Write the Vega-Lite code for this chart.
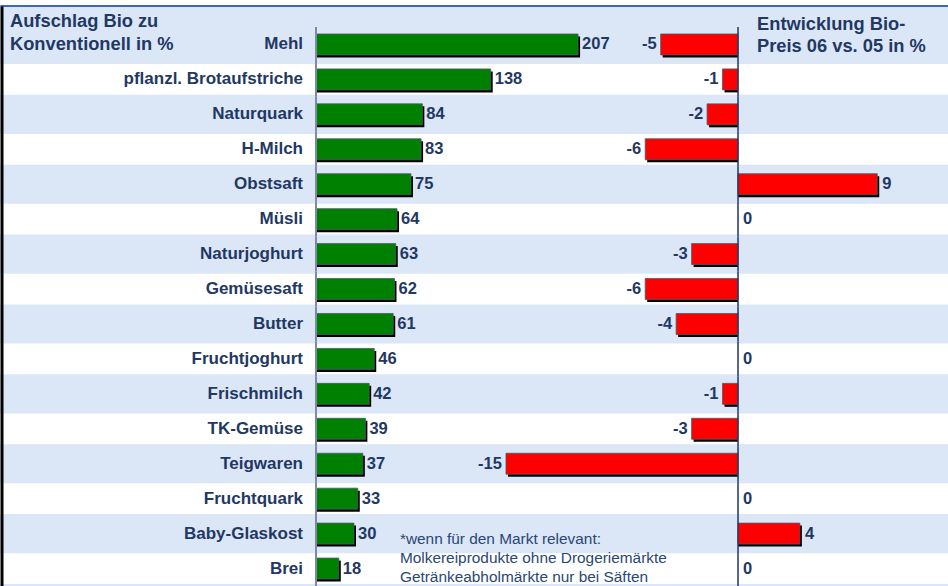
{
  "$schema": "https://vega.github.io/schema/vega-lite/v6.json",
  "width": 948,
  "height": 580,
  "autosize": "none",
  "padding": {"top": 6, "left": 0, "right": 0, "bottom": 0},
  "background": "white",
  "config": {
    "view": {"stroke": null, "fill": "#dbe6f7"},
    "font": "Liberation Sans",
    "text": {"font": "Liberation Sans", "color": "#1f3864"}
  },
  "data": {
    "values": [
      {"cat": "Mehl", "auf": 207, "entw": -5},
      {"cat": "pflanzl. Brotaufstriche", "auf": 138, "entw": -1},
      {"cat": "Naturquark", "auf": 84, "entw": -2},
      {"cat": "H-Milch", "auf": 83, "entw": -6},
      {"cat": "Obstsaft", "auf": 75, "entw": 9},
      {"cat": "Müsli", "auf": 64, "entw": 0},
      {"cat": "Naturjoghurt", "auf": 63, "entw": -3},
      {"cat": "Gemüsesaft", "auf": 62, "entw": -6},
      {"cat": "Butter", "auf": 61, "entw": -4},
      {"cat": "Fruchtjoghurt", "auf": 46, "entw": 0},
      {"cat": "Frischmilch", "auf": 42, "entw": -1},
      {"cat": "TK-Gemüse", "auf": 39, "entw": -3},
      {"cat": "Teigwaren", "auf": 37, "entw": -15},
      {"cat": "Fruchtquark", "auf": 33, "entw": 0},
      {"cat": "Baby-Glaskost", "auf": 30, "entw": 4},
      {"cat": "Brei", "auf": 18, "entw": 0}
    ]
  },
  "encoding": {
    "y": {
      "field": "cat",
      "type": "nominal",
      "sort": null,
      "scale": {
        "domain": ["Mehl", "pflanzl. Brotaufstriche", "Naturquark", "H-Milch", "Obstsaft", "Müsli", "Naturjoghurt", "Gemüsesaft", "Butter", "Fruchtjoghurt", "Frischmilch", "TK-Gemüse", "Teigwaren", "Fruchtquark", "Baby-Glaskost", "Brei"],
        "paddingInner": 0,
        "paddingOuter": 0.3005,
        "align": 1
      },
      "axis": {
        "domain": true,
        "domainColor": "black",
        "domainWidth": 3,
        "offset": -1.5,
        "labels": false,
        "ticks": false,
        "grid": false,
        "title": null,
        "zindex": 1
      }
    }
  },
  "layer": [
    {
      "transform": [
        {"window": [{"op": "row_number", "as": "rn"}]},
        {"filter": "datum.rn % 2 == 0"}
      ],
      "mark": {"type": "bar", "fill": "white", "height": {"band": 0.88}},
      "encoding": {
        "x": {
          "datum": -249.6,
          "type": "quantitative",
          "scale": {"domain": [-249.6, 499.2], "nice": false, "zero": false},
          "axis": {
            "orient": "top",
            "domainColor": "#3b67b9",
            "domainWidth": 2,
            "offset": 0.5,
            "labels": false,
            "ticks": false,
            "grid": false,
            "title": null,
            "zindex": 1
          }
        },
        "x2": {"datum": 499.2}
      }
    },
    {
      "mark": {"type": "bar", "fill": "black", "xOffset": 2, "yOffset": 2.5, "height": {"band": 0.6}},
      "encoding": {
        "x": {"field": "auf", "type": "quantitative", "scale": {"domain": [-249.6, 499.2], "nice": false, "zero": false}, "axis": null},
        "x2": {"datum": 0}
      }
    },
    {
      "mark": {"type": "bar", "fill": "#008000", "stroke": "#4a5a6a", "strokeWidth": 0.8, "height": {"band": 0.6}},
      "encoding": {
        "x": {"field": "auf", "type": "quantitative", "scale": {"domain": [-249.6, 499.2], "nice": false, "zero": false}, "axis": null},
        "x2": {"datum": 0}
      }
    },
    {
      "mark": {"type": "bar", "fill": null, "stroke": "#7d8aa2", "strokeWidth": 2},
      "encoding": {
        "x": {"datum": 0, "type": "quantitative", "scale": {"domain": [-249.6, 499.2], "nice": false, "zero": false}, "axis": null},
        "x2": {"datum": 0}
      }
    },
    {
      "mark": {"type": "text", "align": "left", "baseline": "middle", "dx": 4, "fontSize": 16.5, "fontWeight": "bold"},
      "encoding": {
        "x": {"field": "auf", "type": "quantitative", "scale": {"domain": [-249.6, 499.2], "nice": false, "zero": false}, "axis": null},
        "text": {"field": "auf", "type": "nominal"}
      }
    },
    {
      "mark": {"type": "text", "align": "right", "baseline": "middle", "dx": -13, "fontSize": 17, "fontWeight": "bold"},
      "encoding": {
        "x": {"datum": 0, "type": "quantitative", "scale": {"domain": [-249.6, 499.2], "nice": false, "zero": false}, "axis": null},
        "text": {"field": "cat", "type": "nominal"}
      }
    },
    {
      "transform": [{"filter": "datum.cat == 'Mehl'"}],
      "mark": {"type": "text", "align": "left", "baseline": "top", "dy": -31, "lineHeight": 22.7, "fontSize": 18.3, "fontWeight": "bold"},
      "encoding": {
        "x": {"datum": -241.7, "type": "quantitative", "scale": {"domain": [-249.6, 499.2], "nice": false, "zero": false}, "axis": null},
        "text": {"value": ["Aufschlag Bio zu", "Konventionell in %"]}
      }
    },
    {
      "transform": [{"filter": "datum.cat == 'Baby-Glaskost'"}],
      "mark": {"type": "text", "align": "left", "baseline": "top", "dy": -1.5, "lineHeight": 19, "fontSize": 15.4, "fontWeight": "normal", "color": "#2a4775"},
      "encoding": {
        "x": {"datum": 66.3, "type": "quantitative", "scale": {"domain": [-249.6, 499.2], "nice": false, "zero": false}, "axis": null},
        "text": {"value": ["*wenn für den Markt relevant:", "Molkereiprodukte ohne Drogeriemärkte", "Getränkeabholmärkte nur bei Säften"]}
      }
    },
    {
      "transform": [{"filter": "datum.entw != 0"}],
      "mark": {"type": "bar", "fill": "black", "xOffset": 2, "yOffset": 2.5, "height": {"band": 0.6}},
      "encoding": {
        "x": {"field": "entw", "type": "quantitative", "scale": {"domain": [-47.71, 13.575], "nice": false, "zero": false}, "axis": null},
        "x2": {"datum": 0}
      }
    },
    {
      "transform": [{"filter": "datum.entw != 0"}],
      "mark": {"type": "bar", "fill": "#ff0000", "stroke": "#4a5a6a", "strokeWidth": 0.8, "height": {"band": 0.6}},
      "encoding": {
        "x": {"field": "entw", "type": "quantitative", "scale": {"domain": [-47.71, 13.575], "nice": false, "zero": false}, "axis": null},
        "x2": {"datum": 0}
      }
    },
    {
      "mark": {"type": "bar", "fill": null, "stroke": "#1f3864", "strokeWidth": 1.5},
      "encoding": {
        "x": {"datum": 0, "type": "quantitative", "scale": {"domain": [-47.71, 13.575], "nice": false, "zero": false}, "axis": null},
        "x2": {"datum": 0}
      }
    },
    {
      "transform": [{"filter": "datum.entw < 0"}],
      "mark": {"type": "text", "align": "right", "baseline": "middle", "dx": -4, "fontSize": 16.5, "fontWeight": "bold"},
      "encoding": {
        "x": {"field": "entw", "type": "quantitative", "scale": {"domain": [-47.71, 13.575], "nice": false, "zero": false}, "axis": null},
        "text": {"field": "entw", "type": "nominal"}
      }
    },
    {
      "transform": [{"filter": "datum.entw >= 0"}],
      "mark": {"type": "text", "align": "left", "baseline": "middle", "dx": 5, "fontSize": 16.5, "fontWeight": "bold"},
      "encoding": {
        "x": {"field": "entw", "type": "quantitative", "scale": {"domain": [-47.71, 13.575], "nice": false, "zero": false}, "axis": null},
        "text": {"field": "entw", "type": "nominal"}
      }
    },
    {
      "transform": [{"filter": "datum.cat == 'Mehl'"}],
      "mark": {"type": "text", "align": "left", "baseline": "top", "dy": -28, "lineHeight": 21.7, "fontSize": 18.3, "fontWeight": "bold"},
      "encoding": {
        "x": {"datum": 1.23, "type": "quantitative", "scale": {"domain": [-47.71, 13.575], "nice": false, "zero": false}, "axis": null},
        "text": {"value": ["Entwicklung Bio-", "Preis 06 vs. 05 in %"]}
      }
    }
  ],
  "resolve": {"scale": {"x": "independent"}, "axis": {"x": "independent"}}
}
